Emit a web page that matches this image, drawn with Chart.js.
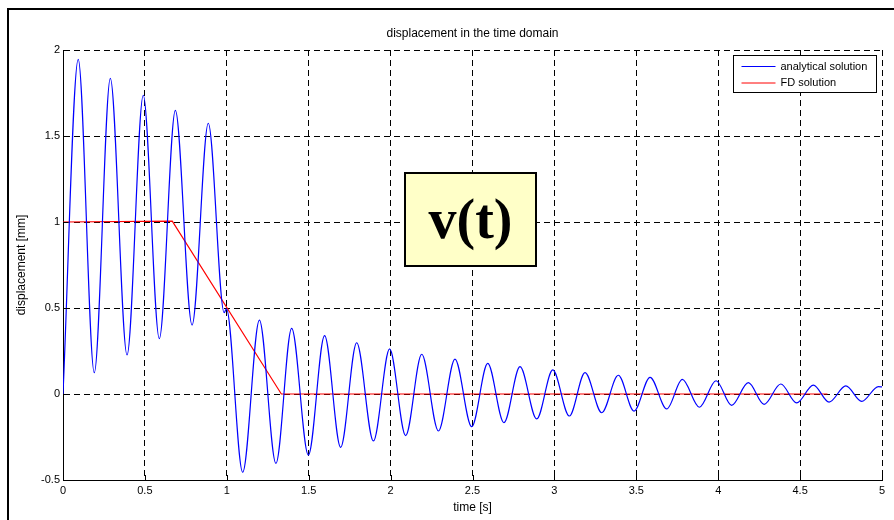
<!DOCTYPE html>
<html>
<head>
<meta charset="utf-8">
<title>displacement in the time domain</title>
<script src="https://cdn.jsdelivr.net/npm/chart.js@4.4.1/dist/chart.umd.min.js"></script>
<style>
    html, body { margin: 0; padding: 0; background: #fff; }
    #wrap { width: 894px; height: 520px; }
</style>
</head>
<body>
<div id="wrap"><canvas id="dispChart" width="894" height="520"></canvas></div>
<script>
// values (peaks and troughs of the analytical curve)
const analyticalTime = [0, 0.093, 0.191, 0.289, 0.391, 0.49, 0.588, 0.686, 0.788, 0.887, 0.984, 0.998,
    1.097, 1.199, 1.300, 1.396, 1.498, 1.597, 1.695, 1.793, 1.895, 1.994, 2.092, 2.190, 2.292, 2.393,
    2.495, 2.593, 2.692, 2.790, 2.892, 2.990, 3.091, 3.187, 3.289, 3.390, 3.486, 3.584, 3.686, 3.781,
    3.885, 3.987, 4.082, 4.184, 4.280, 4.382, 4.479, 4.581, 4.677, 4.779, 4.876, 4.978, 5.0];
const analyticalDisp = [0, 1.946, 0.124, 1.835, 0.227, 1.737, 0.322, 1.649, 0.401, 1.574, 0.473, 0.495,
    -0.455, 0.430, -0.403, 0.382, -0.355, 0.339, -0.310, 0.298, -0.273, 0.262, -0.242, 0.231, -0.215, 0.203,
    -0.190, 0.178, -0.167, 0.159, -0.145, 0.140, -0.128, 0.124, -0.109, 0.109, -0.099, 0.097, -0.087, 0.085,
    -0.077, 0.077, -0.066, 0.066, -0.060, 0.058, -0.052, 0.052, -0.047, 0.047, -0.043, 0.043, 0.041];

const fdTime = [0, 0.667, 1.333, 2, 2.667, 3.333, 4, 4.667];
const fdDisp = [1, 1.005, 0, 0, 0, 0, 0, 0];

const xTicks = ['0', '0.5', '1', '1.5', '2', '2.5', '3', '3.5', '4', '4.5', '5'];
const yTicks = ['-0.5', '0', '0.5', '1', '1.5', '2'];

const FONT = 'Liberation Sans, Arial, Helvetica, sans-serif';

function toPoints(xs, ys) {
    return xs.map((x, i) => ({ x: x, y: ys[i] }));
}

// white page + the figure frame (only top and left edges are visible)
const framePlugin = {
    id: 'frame',
    beforeDraw(chart) {
        const ctx = chart.ctx;
        ctx.save();
        ctx.fillStyle = '#fff';
        ctx.fillRect(0, 0, chart.width, chart.height);
        ctx.strokeStyle = '#000';
        ctx.lineWidth = 2;
        ctx.beginPath();
        ctx.moveTo(chart.width, 9);
        ctx.lineTo(8, 9);
        ctx.lineTo(8, chart.height);
        ctx.stroke();
        ctx.restore();
    }
};

// matlab style ticks pointing into the axes
const innerTicksPlugin = {
    id: 'innerTicks',
    afterDatasetsDraw(chart) {
        const ctx = chart.ctx;
        const area = chart.chartArea;
        const xs = chart.scales.x;
        const ys = chart.scales.y;
        ctx.save();
        ctx.strokeStyle = '#000';
        ctx.lineWidth = 1;
        ctx.beginPath();
        xs.ticks.forEach(t => {
            const px = Math.round(xs.getPixelForValue(t.value)) + 0.5;
            ctx.moveTo(px, area.bottom);
            ctx.lineTo(px, area.bottom - 5);
        });
        ys.ticks.forEach(t => {
            const py = Math.round(ys.getPixelForValue(t.value)) + 0.5;
            ctx.moveTo(area.left, py);
            ctx.lineTo(area.left + 5, py);
        });
        ctx.stroke();
        ctx.restore();
    }
};

// boxed legend in the upper right corner
const boxLegendPlugin = {
    id: 'boxLegend',
    afterDraw(chart) {
        const ctx = chart.ctx;
        const area = chart.chartArea;
        const x0 = area.right - 148.5;
        const y0 = area.top + 5.5;
        const w = 143;
        const h = 37;
        ctx.save();
        ctx.fillStyle = '#fff';
        ctx.fillRect(x0, y0, w, h);
        ctx.strokeStyle = '#000';
        ctx.lineWidth = 1;
        ctx.strokeRect(x0, y0, w, h);
        ctx.font = '11px ' + FONT;
        ctx.textBaseline = 'middle';
        ctx.textAlign = 'left';
        chart.data.datasets.forEach((ds, i) => {
            const ly = y0 + 11 + i * 16.5;
            ctx.strokeStyle = ds.borderColor;
            ctx.beginPath();
            ctx.moveTo(x0 + 8, ly);
            ctx.lineTo(x0 + 42, ly);
            ctx.stroke();
            ctx.fillStyle = '#000';
            ctx.fillText(ds.label, x0 + 47, ly);
        });
        ctx.restore();
    }
};

// the yellow v(t) label box
const labelBoxPlugin = {
    id: 'labelBox',
    afterDraw(chart) {
        const ctx = chart.ctx;
        ctx.save();
        ctx.fillStyle = '#ffffc8';
        ctx.fillRect(405, 173, 131, 93);
        ctx.strokeStyle = '#000';
        ctx.lineWidth = 2;
        ctx.strokeRect(405, 173, 131, 93);
        ctx.fillStyle = '#000';
        ctx.font = 'bold 56px Liberation Serif, Times New Roman, serif';
        ctx.textAlign = 'center';
        ctx.textBaseline = 'alphabetic';
        ctx.fillText('v(t)', 470.5, 238);
        ctx.restore();
    }
};

document.addEventListener('DOMContentLoaded', function() {
    const ctx = document.getElementById('dispChart');

    const data = {
        datasets: [{
            label: 'analytical solution',
            data: toPoints(analyticalTime, analyticalDisp),
            borderColor: '#0000ff',
            borderWidth: 1.2,
            pointRadius: 0,
            cubicInterpolationMode: 'monotone',
            fill: false
        }, {
            label: 'FD solution',
            data: toPoints(fdTime, fdDisp),
            borderColor: '#ff0000',
            borderWidth: 1.2,
            pointRadius: 0,
            tension: 0,
            fill: false
        }]
    };

    window.dispChartInstance = new Chart(ctx, {
        type: 'line',
        data: data,
        plugins: [framePlugin, innerTicksPlugin, boxLegendPlugin, labelBoxPlugin],
        options: {
            responsive: false,
            animation: false,
            layout: {
                padding: { top: 0, right: 12, bottom: 0, left: 0 }
            },
            plugins: {
                legend: { display: false },
                tooltip: { enabled: false },
                title: {
                    display: true,
                    fullSize: false,
                    text: 'displacement in the time domain',
                    color: '#000',
                    font: { family: FONT, size: 12, weight: 'normal' },
                    padding: { top: 26, bottom: 9.6 }
                }
            },
            scales: {
                x: {
                    type: 'linear',
                    min: 0,
                    max: 5,
                    afterFit: function(scale) { scale.height = 40; },
                    ticks: {
                        stepSize: 0.5,
                        color: '#000',
                        padding: 4,
                        maxRotation: 0,
                        font: { family: FONT, size: 11 },
                        callback: (value, i) => xTicks[i]
                    },
                    grid: { color: '#000', lineWidth: 1, drawTicks: false },
                    border: { display: true, color: '#000', width: 1, dash: [6, 4] },
                    title: {
                        display: true,
                        text: 'time [s]',
                        color: '#000',
                        font: { family: FONT, size: 12 },
                        padding: { top: 0, bottom: 4.8 }
                    }
                },
                y: {
                    type: 'linear',
                    min: -0.5,
                    max: 2,
                    afterFit: function(scale) { scale.width = 63; },
                    ticks: {
                        stepSize: 0.5,
                        color: '#000',
                        padding: 3,
                        font: { family: FONT, size: 11 },
                        callback: (value, i) => yTicks[i]
                    },
                    grid: { color: '#000', lineWidth: 1, drawTicks: false },
                    border: { display: true, color: '#000', width: 1, dash: [6, 4] },
                    title: {
                        display: true,
                        text: 'displacement [mm]',
                        color: '#000',
                        font: { family: FONT, size: 12 },
                        padding: { top: 14.8, bottom: 0 }
                    }
                }
            }
        }
    });
});
</script>
</body>
</html>
